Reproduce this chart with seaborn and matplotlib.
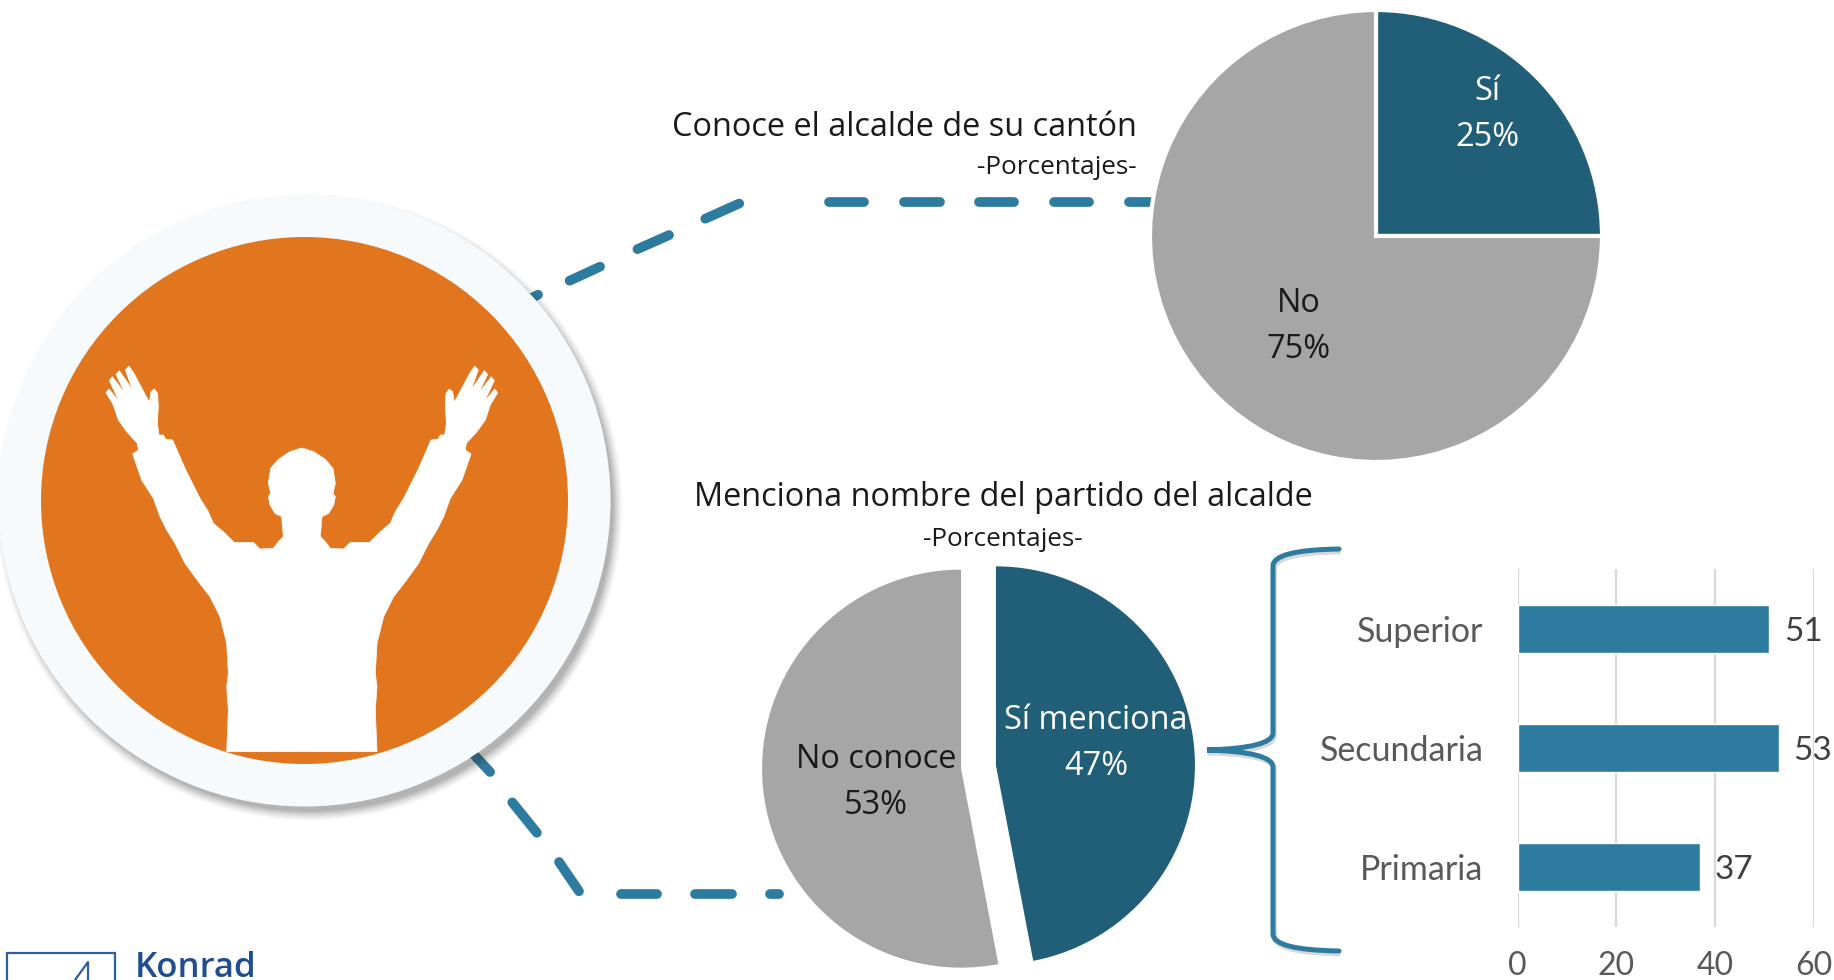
import numpy as np
import pandas as pd
import matplotlib
matplotlib.use("Agg")
import matplotlib.pyplot as plt
from matplotlib.patches import Circle, Polygon, Rectangle, PathPatch
from matplotlib.path import Path
from matplotlib.transforms import Affine2D
import seaborn as sns

# ---- data ----
pie1_labels = ["Sí", "No"]
pie1_values = [25, 75]
pie2_labels = ["Sí menciona", "No conoce"]
pie2_values = [47, 53]
edu_levels = ["Superior", "Secundaria", "Primaria"]
edu_values = [51, 53, 37]
edu_ticks = [0, 20, 40, 60]
title1 = "Conoce el alcalde de su cantón"
title2 = "Menciona nombre del partido del alcalde"
subtitle = "-Porcentajes-"

TEAL_DARK = "#215E78"
BLUE = "#2E7BA0"
GRAY = "#A6A6A6"
ORANGE = "#E2761F"
RING = "#F6FAFD"

W, H = 1834, 980
sns.set_theme(style="white")
plt.rcParams["font.family"] = ["Open Sans", "DejaVu Sans"]
fig = plt.figure(figsize=(W / 100, H / 100), dpi=100, facecolor="white")


def px_axes(left, top, right, bottom, **kw):
    return fig.add_axes([left / W, 1 - bottom / H, (right - left) / W, (bottom - top) / H], **kw)


def label(x, y, s, **kw):
    kw.setdefault("ha", "center")
    kw.setdefault("va", "center")
    return fig.text(x / W, 1 - y / H, s, **kw)


# ---- decorative background layer in pixel coordinates ----
bg = px_axes(0, 0, W, H)
bg.set_xlim(0, W)
bg.set_ylim(H, 0)
bg.axis("off")

S = 1834 / 1568
dashes = [
    [(452, 256), (460, 252)], [(487, 240), (513, 228)], [(545, 213), (572, 201)],
    [(603, 187), (632, 174)], [(709, 173), (739, 173)], [(773, 173), (804, 173)],
    [(837, 173), (867, 173)], [(901, 173), (931, 173)], [(965, 173), (990, 173)],
    [(405, 645), (419, 660)], [(438, 686), (459, 712)], [(478, 737), (495, 762)],
    [(531, 764), (562, 764)], [(594, 764), (626, 764)], [(658, 764), (666, 764)],
]
for seg in dashes:
    xs, ys = zip(*seg)
    bg.plot(np.array(xs) * S, np.array(ys) * S, color=BLUE, lw=7, solid_capstyle="round", zorder=1)

cx, cy = 304.5, 500.5
for i, a in enumerate(np.linspace(0.03, 0.09, 7)):
    bg.add_patch(Circle((cx + 5, cy + 7), 313 - i * 1.5, fc="#303030", ec="none", alpha=a, zorder=2))
bg.add_patch(Circle((cx, cy), 306, fc=RING, ec="none", zorder=3))
bg.add_patch(Circle((cx, cy), 263.5, fc=ORANGE, ec="none", zorder=4))

# silhouette traced in a 3x crop with origin (60, 340), left half, mirrored
half = [
    (500, 1235), (505, 1110), (500, 1040), (505, 1000), (500, 910), (480, 830), (450, 770),
    (415, 725), (375, 670), (345, 610), (320, 570), (300, 530), (280, 475), (245, 420),
    (218, 342), (235, 330), (232, 310), (200, 275), (175, 240), (160, 195), (138, 158),
    (147, 147), (178, 185), (148, 122), (157, 110), (195, 160), (168, 103), (178, 92),
    (218, 150), (196, 90), (207, 78), (222, 100), (268, 187), (273, 155), (283, 147),
    (293, 160), (295, 200), (292, 250), (297, 285), (310, 285), (318, 298), (338, 300),
    (375, 385), (420, 475), (445, 515), (460, 550), (490, 575), (522, 607), (580, 607),
    (600, 627), (640, 625), (655, 605), (670, 590), (665, 530), (645, 520), (630, 495),
    (625, 470), (632, 460), (625, 430), (632, 385), (655, 358), (690, 335), (725, 324),
]
half = np.array(half, float)
mirror = half[::-1].copy()
mirror[:, 0] = 2 * 725.5 - mirror[:, 0]
sil = np.vstack([half, mirror]) / 3 + np.array([60, 340])
bg.add_patch(Polygon(sil, closed=True, fc="white", ec="white", lw=0.5, joinstyle="round", zorder=5))

# brace
M, C, L = Path.MOVETO, Path.CURVE3, Path.LINETO
brace_v = [(1339, 549), (1273, 550), (1273, 566), (1273, 733), (1273, 748), (1207, 750),
           (1273, 752), (1273, 767), (1273, 934), (1273, 950), (1339, 951)]
brace_c = [M, C, C, L, C, C, C, C, L, C, C]
brace_path = Path(brace_v, brace_c)
bg.add_patch(PathPatch(brace_path.transformed(Affine2D().translate(1.5, 3)),
                       fc="none", ec="#808080", lw=3.4, alpha=0.3, zorder=1))
bg.add_patch(PathPatch(brace_path, fc="none", ec=BLUE, lw=3.6, capstyle="round", zorder=2))

# logo
bg.add_patch(Rectangle((7, 953), 108, 60, fc="white", ec="#2F5F9A", lw=1.6, zorder=2))
bg.plot([75, 88, 88], [980, 962, 980], color="#2F5F9A", lw=1.6, zorder=3)
bg.text(135, 977, "Konrad", color="#1F4E8C", fontsize=25, family="Open Sans", fontweight="semibold",
        ha="left", va="baseline", zorder=3)

# ---- pie 1 ----
R1 = 226
ax1 = px_axes(1376 - R1 * 1.05, 236 - R1 * 1.05, 1376 + R1 * 1.05, 236 + R1 * 1.05)
ax1.pie(pie1_values, colors=[TEAL_DARK, GRAY], startangle=90, counterclock=False, radius=1,
        wedgeprops=dict(edgecolor="white", linewidth=3))
ax1.set_xlim(-1.05, 1.05)
ax1.set_ylim(-1.05, 1.05)

# ---- pie 2 ----
R2 = 199
ax2 = px_axes(978.5 - R2 * 1.2, 767 - R2 * 1.2, 978.5 + R2 * 1.2, 767 + R2 * 1.2)
ax2.pie(pie2_values, colors=[TEAL_DARK, GRAY], startangle=90, counterclock=False, radius=1,
        explode=[0.088, 0.088], wedgeprops=dict(linewidth=0))
ax2.set_xlim(-1.2, 1.2)
ax2.set_ylim(-1.2, 1.2)

# ---- bars ----
ax3 = px_axes(1517.5, 569, 1813.5, 927)
ax3.patch.set_alpha(0)
df = pd.DataFrame({"nivel": edu_levels, "valor": edu_values})
sns.barplot(data=df, y="nivel", x="valor", orient="h", order=edu_levels, color=BLUE,
            saturation=1, width=0.4, ax=ax3, zorder=3)
ax3.set_xlim(0, 60)
ax3.set_xticks(edu_ticks)
ax3.set_xlabel("")
ax3.set_ylabel("")
ax3.grid(axis="x", color="#D9D9D9", lw=1.6, zorder=0)
ax3.set_axisbelow(True)
sns.despine(ax=ax3, left=True, bottom=True, top=True, right=True)
ax3.tick_params(axis="both", length=0, colors="#595959")
ax3.tick_params(axis="x", pad=17)
ax3.tick_params(axis="y", pad=24.5)
for t in ax3.get_xticklabels():
    t.set_fontsize(23)
    t.set_family("Lato")
for t in ax3.get_yticklabels():
    t.set_fontsize(24.5)
    t.set_family("Lato")
for c in ax3.containers:
    for t in ax3.bar_label(c, labels=[str(v) for v in edu_values], padding=10.5, fontsize=24,
                           color="#404040", family="Lato", clip_on=False):
        t.set_va("center_baseline")

# ---- texts ----
txt = dict(fontsize=23.4, linespacing=1.52)
label(1487, 114, f"{pie1_labels[0]}\n{pie1_values[0]}%", color="white", **txt)
label(1299, 326, f"{pie1_labels[1]}\n{pie1_values[1]}%", color="#1a1a1a", **txt)
label(1096, 743, f"{pie2_labels[0]}\n{pie2_values[0]}%", color="white", **txt)
label(876, 782, f"{pie2_labels[1]}\n{pie2_values[1]}%", color="#1a1a1a", **txt)
label(1137, 127.5, title1, ha="right", fontsize=23.4, color="#1a1a1a")
label(1137, 167, subtitle, ha="right", fontsize=18.8, color="#1a1a1a")
label(1003, 497.5, title2, fontsize=23.4, color="#1a1a1a")
label(1003, 539, subtitle, fontsize=18.8, color="#1a1a1a")

fig.savefig("out.png", dpi=100)
